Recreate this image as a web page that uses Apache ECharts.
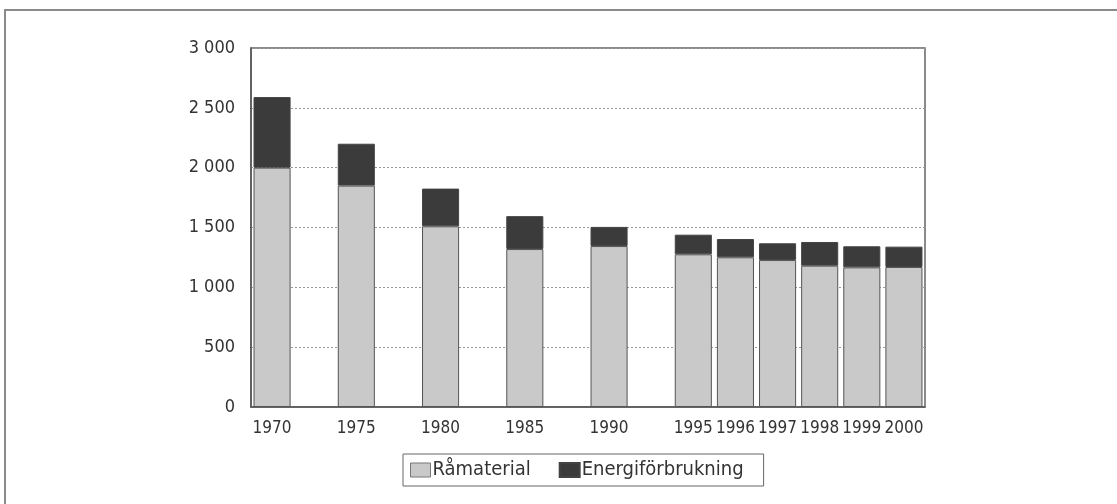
<!DOCTYPE html>
<html>
<head>
<meta charset="utf-8">
<script src="https://cdn.jsdelivr.net/npm/echarts@6/dist/echarts.min.js"></script>
<style>
  html, body { margin: 0; padding: 0; background: #fff; }
  #chart { width: 1117px; height: 504px; }
</style>
</head>
<body>
<div id="chart"></div>
<script>
// years, with blank slots where the series skips four years
const years = ['1970', '', '1975', '', '1980', '', '1985', '', '1990', '', '1995', '1996', '1997', '1998', '1999', '2000']
const ramaterial = [2000, null, 1850, null, 1510, null, 1320, null, 1345, null, 1276, 1251, 1228, 1181, 1167, 1170]
const energi = [590, null, 350, null, 315, null, 275, null, 160, null, 164, 153, 140, 198, 176, 170]
const yTicks = [0, 500, 1000, 1500, 2000, 2500, 3000]

const font = '"DejaVu Sans Condensed", "Liberation Sans Narrow", "Roboto", sans-serif'

const chart = echarts.init(document.getElementById('chart'))

chart.setOption({
  animation: false,
  textStyle: { fontFamily: font },
  graphic: [
    {
      type: 'rect',
      shape: { x: 5, y: 10, width: 1200, height: 600 },
      style: { fill: 'none', stroke: '#8a8a8a', lineWidth: 2 },
      silent: true,
    },
  ],
  grid: {
    left: 251,
    right: 192,
    top: 48,
    bottom: 97,
    show: true,
    borderColor: '#666',
    borderWidth: 1.5,
  },
  legend: {
    left: 403,
    top: 454,
    orient: 'horizontal',
    itemWidth: 20,
    itemHeight: 14,
    itemGap: 28,
    padding: [6, 20, 6, 7],
    borderColor: '#666',
    borderWidth: 1,
    icon: 'rect',
    textStyle: { fontFamily: font, fontSize: 20, color: '#333', padding: [0, 0, 0, -3] },
    data: [
      { name: 'Råmaterial', itemStyle: { borderColor: '#777', borderWidth: 1 } },
      { name: 'Energiförbrukning' },
    ],
  },
  xAxis: {
    type: 'category',
    data: years,
    axisTick: { show: false },
    axisLine: { lineStyle: { color: '#555', width: 1.5 } },
    axisLabel: { interval: 0, color: '#333', fontSize: 17, margin: 13 },
  },
  yAxis: {
    type: 'value',
    min: yTicks[0],
    max: yTicks[yTicks.length - 1],
    interval: 500,
    axisLine: { show: true, lineStyle: { color: '#555', width: 1.5 } },
    axisTick: { show: false },
    axisLabel: {
      color: '#333',
      fontSize: 18,
      margin: 16,
      formatter: v => String(v).replace(/\B(?=(\d{3})+(?!\d))/g, ' '),
    },
    splitLine: { lineStyle: { color: '#999', type: [2, 2], width: 1 } },
  },
  series: [
    {
      name: 'Råmaterial',
      type: 'bar',
      stack: 'total',
      barCategoryGap: '12%',
      data: ramaterial,
      itemStyle: { color: '#c9c9c9', borderColor: '#555', borderWidth: 1 },
    },
    {
      name: 'Energiförbrukning',
      type: 'bar',
      stack: 'total',
      barCategoryGap: '12%',
      data: energi,
      itemStyle: { color: '#3b3b3b', borderColor: '#444', borderWidth: 1 },
    },
  ],
})
</script>
</body>
</html>
